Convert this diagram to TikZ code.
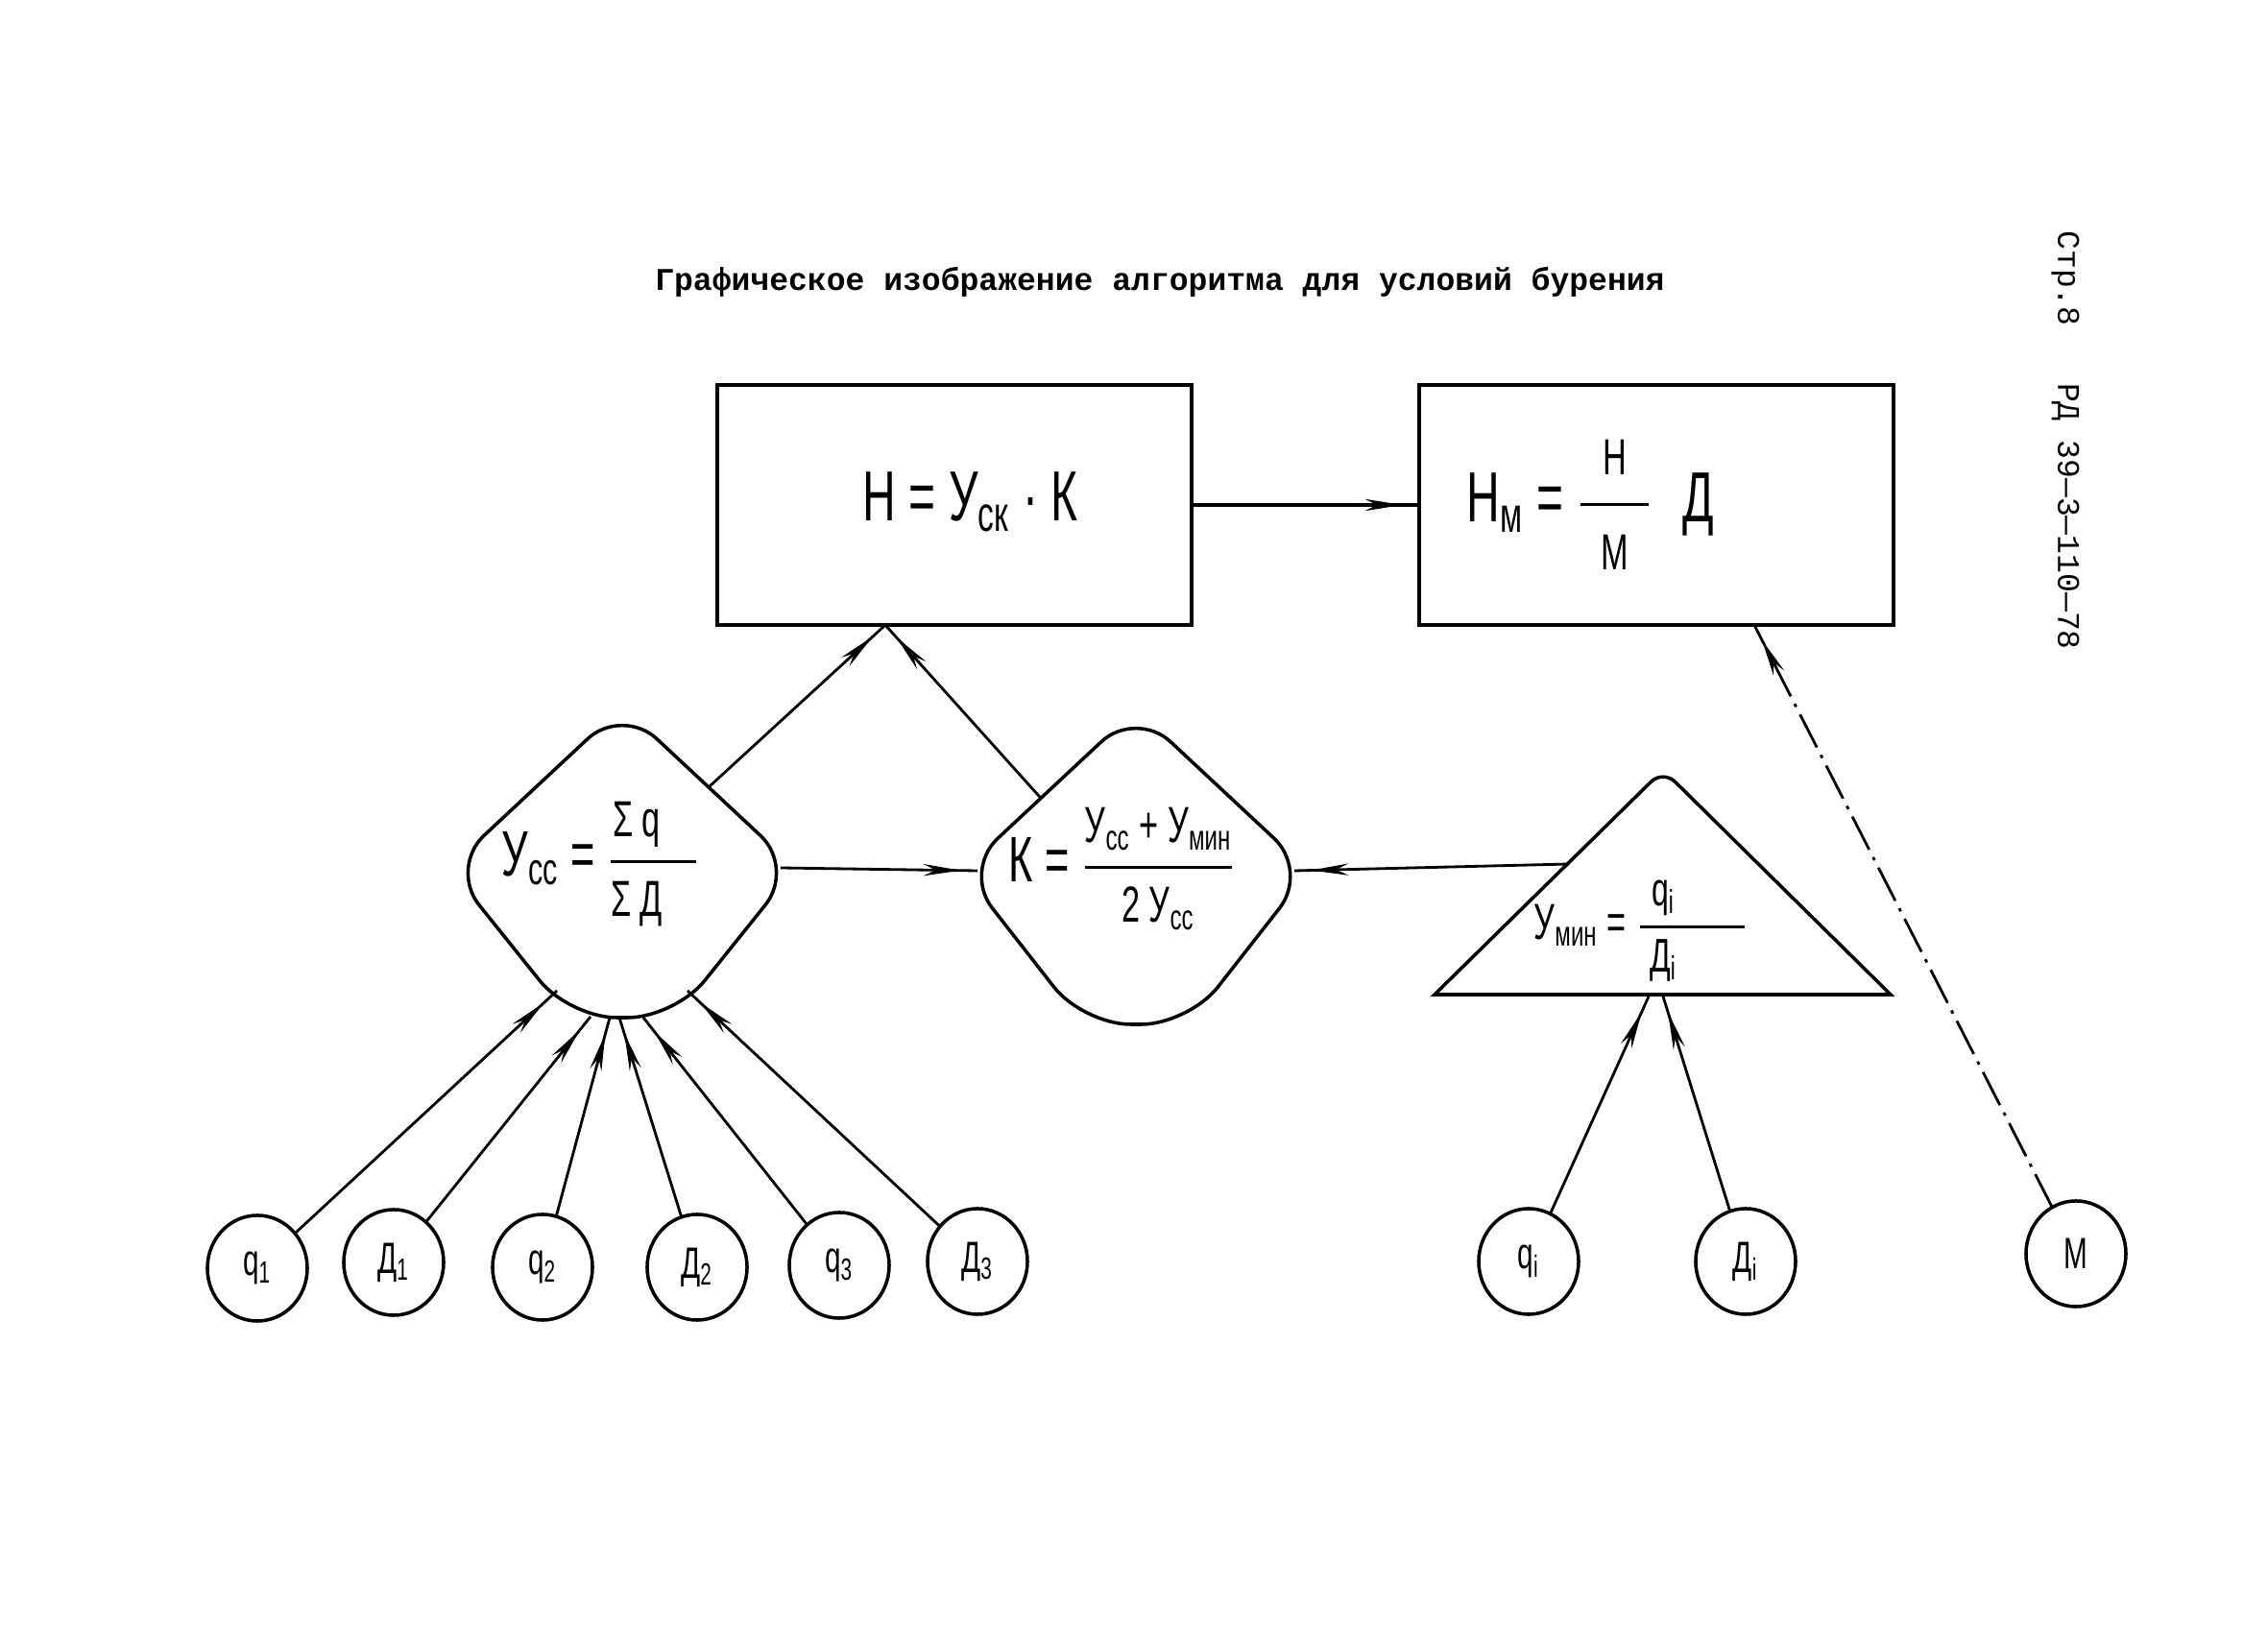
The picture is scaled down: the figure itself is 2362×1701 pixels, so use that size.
\documentclass[tikz,border=0pt]{standalone}
\usepackage{fontspec}
\setmainfont{Liberation Sans}
\newfontfamily\tw{Liberation Mono}
\newfontfamily\hand[FakeStretch=0.65]{Liberation Sans}
\usetikzlibrary{shapes.geometric,arrows.meta,decorations.markings,calc}
\newcommand{\hfrac}[2]{{\displaystyle{#1\above0.9pt #2}}}
\tikzset{
  box/.style={draw, line width=1.2pt, minimum width=4.94cm, minimum height=2.50cm, inner sep=0pt, outer sep=0pt},
  holder/.style={inner sep=0pt, outer sep=0pt, minimum size=1pt},
  diaout/.style={line width=1pt, rounded corners=14pt},
  circ/.style={ellipse, draw, line width=1pt, minimum width=1.04cm, minimum height=1.10cm, inner sep=0pt, outer sep=0pt, font=\hand\fontsize{13}{15}\selectfont},
  conn/.style={line width=0.8pt, postaction={decorate}, decoration={markings, mark=at position -5pt with {\arrow{Stealth[length=11pt,width=3.5pt]}}}},
  conndd/.style={conn, dash pattern=on 11pt off 2.5pt on 1pt off 2.5pt},
  formula/.style={inner sep=0pt, anchor=west},
}
\begin{document}
\begin{tikzpicture}[x=0.01cm,y=-0.01cm]
\fill[white] (0,0) rectangle (2362,1701);
\useasboundingbox (0,0) rectangle (2362,1701);

% title and page labels
\node[font=\tw\bfseries\fontsize{9.4}{11}\selectfont] (title) at (1208,294) {Графическое изображение алгоритма для условий бурения};
\node[rotate=-90, font=\tw\fontsize{9.4}{11}\selectfont] (page) at (2151,290) {Стр.8};
\node[rotate=-90, font=\tw\fontsize{9.4}{11}\selectfont] (code) at (2151,538) {РД 39—3—110—78};

% boxes
\node[box] (box1) at (994,526) {};
\node[box] (box2) at (1725,526) {};
\node[formula] (t1) at (898,523) {\hand\fontsize{21}{25}\selectfont Н = У\textsubscript{ск} · К};
\node[formula] (t2) at (1527,526) {\hand\fontsize{21}{25}\selectfont Н\textsubscript{м} = $\hfrac{\mbox{\fontsize{15}{18}\selectfont\hspace{6pt}Н\hspace{6pt}}}{\mbox{\fontsize{15}{18}\selectfont\hspace{6pt}М\hspace{6pt}}}$\hspace{9pt}Д};

% diamond-like blocks (centre nodes and outlines)
\node[holder] (d1) at (648,904) {};
\coordinate (d1t) at ($(d1)+(0,-168)$);
\coordinate (d1r) at ($(d1)+(180,0)$);
\coordinate (d1br) at ($(d1)+(55,156)$);
\coordinate (d1bl) at ($(d1)+(-55,156)$);
\coordinate (d1l) at ($(d1)+(-180,0)$);
\draw[diaout] (d1t) -- (d1r) -- (d1br) -- (d1bl) -- (d1l) -- cycle;
\node[holder] (d2) at (1183,907) {};
\coordinate (d2t) at ($(d2)+(0,-168)$);
\coordinate (d2r) at ($(d2)+(180,0)$);
\coordinate (d2br) at ($(d2)+(55,160)$);
\coordinate (d2bl) at ($(d2)+(-55,160)$);
\coordinate (d2l) at ($(d2)+(-180,0)$);
\draw[diaout] (d2t) -- (d2r) -- (d2br) -- (d2bl) -- (d2l) -- cycle;
\node[formula] (t3) at (522,900) {\hand\fontsize{19}{22}\selectfont У\textsubscript{сс} = $\hfrac{\mbox{\fontsize{15}{18}\selectfont Σ q\hspace{10pt}}}{\mbox{\fontsize{15}{18}\selectfont Σ Д\hspace{10pt}}}$};
\node[formula] (t4) at (1050,905) {\hand\fontsize{19}{22}\selectfont К = $\hfrac{\mbox{\fontsize{15}{18}\selectfont У\textsubscript{сс} + У\textsubscript{мин}}}{\mbox{\fontsize{15}{18}\selectfont 2 У\textsubscript{сс}}}$};

% triangle
\coordinate (tbl) at (1494,1036);
\coordinate (tap) at (1732,802);
\coordinate (tbr) at (1969,1036);
\draw[line width=1pt] (tbl) [rounded corners=5pt]-- (tap) [sharp corners]-- (tbr) -- cycle;
\coordinate (triL) at (1634,900);
\coordinate (triB1) at (1717,1038);
\coordinate (triB2) at (1732,1038);
\node[formula] (t5) at (1597,970) {\hand\fontsize{15}{18}\selectfont У\textsubscript{мин} = $\hfrac{\mbox{\fontsize{14}{16}\selectfont\hspace{3pt}q\textsubscript{i}}\hspace{20pt}}{\mbox{\fontsize{14}{16}\selectfont\hspace{3pt}Д\textsubscript{i}}\hspace{20pt}}$};

% circles
\node[circ] (q1) at (268,1321) {q\textsubscript{1}};
\node[circ] (D1) at (410,1315) {Д\textsubscript{1}};
\node[circ] (q2) at (565,1320) {q\textsubscript{2}};
\node[circ] (D2) at (726,1320) {Д\textsubscript{2}};
\node[circ] (q3) at (874,1318) {q\textsubscript{3}};
\node[circ] (D3) at (1018,1314) {Д\textsubscript{3}};
\node[circ] (qi) at (1592,1314) {q\textsubscript{i}};
\node[circ] (Di) at (1818,1314) {Д\textsubscript{i}};
\node[circ] (M) at (2162,1306) {М};

% connectors
\draw[conn, line width=1pt] (box1.east) -- (box2.west);
\draw[conn] ($(d1t)!0.5!(d1r)$) -- ($(box1.south)+(-72,0)$);
\draw[conn] ($(d2t)!0.55!(d2l)$) -- ($(box1.south)+(-72,0)$);
\draw[conn] ($(d1r)+(-15,0)$) -- ($(d2l)+(15,0)$);
\draw[conn] (triL) -- ($(d2r)+(-15,0)$);
\draw[conndd] (M) -- ($(box2.south)+(102,0)$);
\draw[conn] (qi) -- (triB1);
\draw[conn] (Di) -- (triB2);
\draw[conn] (q1) -- ($(d1)+(-68,128)$);
\draw[conn] (D1) -- ($(d1)+(-33,155)$);
\draw[conn] (q2) -- ($(d1)+(-13,156)$);
\draw[conn] (D2) -- ($(d1)+(-3,156)$);
\draw[conn] (q3) -- ($(d1)+(22,156)$);
\draw[conn] (D3) -- ($(d1)+(68,128)$);
\end{tikzpicture}
\end{document}
